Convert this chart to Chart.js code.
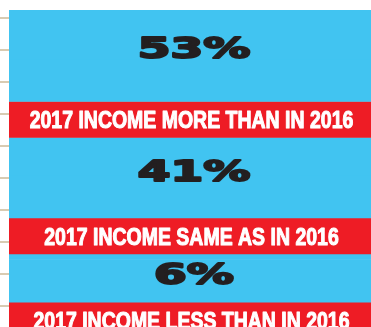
<!DOCTYPE html>
<html>
<head>
<meta charset="utf-8">
<script src="https://cdn.jsdelivr.net/npm/chart.js@4/dist/chart.umd.min.js"></script>
<style>
  html, body { margin: 0; padding: 0; background: #ffffff; }
  canvas { display: block; }
</style>
</head>
<body>
<canvas id="chart" width="371" height="327"></canvas>
<script>
// Survey answers: how 2017 income compares with 2016
const categories = [
  '2017 INCOME MORE THAN IN 2016',
  '2017 INCOME SAME AS IN 2016',
  '2017 INCOME LESS THAN IN 2016'
];
const shares = [53, 41, 6];
const shareLabels = shares.map(v => v + '%');

// Layout (axis units): blue room around each figure, height of each red caption band
const FIGURE_ROOM = 46;
const BAND = 39;
const Y_MAX = 343;

const BLUE = '#41c4f1';
const RED = '#ee1c25';
const INK = '#231f20';
const RULE = '#d8cbb2';

// One stacked column: share segment, blue room for the figure, red caption band
const datasets = [];
categories.forEach((cat, i) => {
  datasets.push({ label: cat, data: [shares[i]], backgroundColor: BLUE, role: 'share', group: i });
  datasets.push({ label: cat + ' (room)', data: [FIGURE_ROOM], backgroundColor: BLUE, role: 'room', group: i });
  datasets.push({ label: cat + ' (band)', data: [BAND], backgroundColor: RED, role: 'band', group: i });
});

// Heavy, horizontally scaled text: fill plus a same-colour outline to thicken strokes
function drawStretched(ctx, text, x, y, sx, weight) {
  ctx.save();
  ctx.translate(x, y);
  ctx.scale(sx, 1);
  ctx.fillText(text, 0, 0);
  if (weight > 0) {
    ctx.lineWidth = weight;
    ctx.lineJoin = 'round';
    ctx.strokeStyle = ctx.fillStyle;
    ctx.strokeText(text, 0, 0);
  }
  ctx.restore();
}

const captions = {
  id: 'captions',
  afterDatasetsDraw(chart) {
    const { ctx, chartArea } = chart;
    const cx = (chartArea.left + chartArea.right) / 2;
    const elementOf = (role, i) => {
      const di = chart.data.datasets.findIndex(d => d.role === role && d.group === i);
      return chart.getDatasetMeta(di).data[0];
    };
    ctx.save();
    ctx.beginPath();
    ctx.rect(chartArea.left, chartArea.top, chartArea.right - chartArea.left, chartArea.bottom - chartArea.top);
    ctx.clip();
    ctx.textAlign = 'center';
    ctx.textBaseline = 'alphabetic';
    categories.forEach((cat, i) => {
      const s = elementOf('share', i);
      const r = elementOf('room', i);
      const b = elementOf('band', i);
      const top = Math.min(s.y, s.base);
      const bottom = Math.max(r.y, r.base);
      const figY = top + 0.40 * (bottom - top);
      ctx.fillStyle = INK;
      ctx.font = 'bold 29px "DejaVu Sans"';
      drawStretched(ctx, shareLabels[i], cx + 4, figY + 11, 1.62, 2);

      const bTop = Math.min(b.y, b.base);
      ctx.fillStyle = '#ffffff';
      ctx.font = 'bold 24.5px "Liberation Sans"';
      drawStretched(ctx, cat, cx + 1.5, bTop + 27, 0.795, 1.1);
    });
    ctx.restore();
  }
};

new Chart(document.getElementById('chart'), {
  type: 'bar',
  data: { labels: ['2017 vs 2016'], datasets },
  options: {
    responsive: false,
    animation: false,
    devicePixelRatio: 1,
    layout: { padding: { top: 10, left: 0, right: 0, bottom: 0 } },
    datasets: {
      bar: { barPercentage: 1, categoryPercentage: 1, borderWidth: 0 }
    },
    plugins: {
      legend: { display: false },
      tooltip: { enabled: false }
    },
    scales: {
      x: { display: false, stacked: true },
      y: { display: false, stacked: true, reverse: true, min: 0, max: Y_MAX },
      rule: {
        type: 'linear',
        position: 'left',
        reverse: true,
        min: -0.25,
        max: 9.656,
        border: { display: false },
        grid: { drawOnChartArea: false, drawTicks: true, tickLength: 9, color: RULE, lineWidth: 2 },
        ticks: { display: false, stepSize: 1, includeBounds: false }
      }
    }
  },
  plugins: [captions]
});
</script>
</body>
</html>
